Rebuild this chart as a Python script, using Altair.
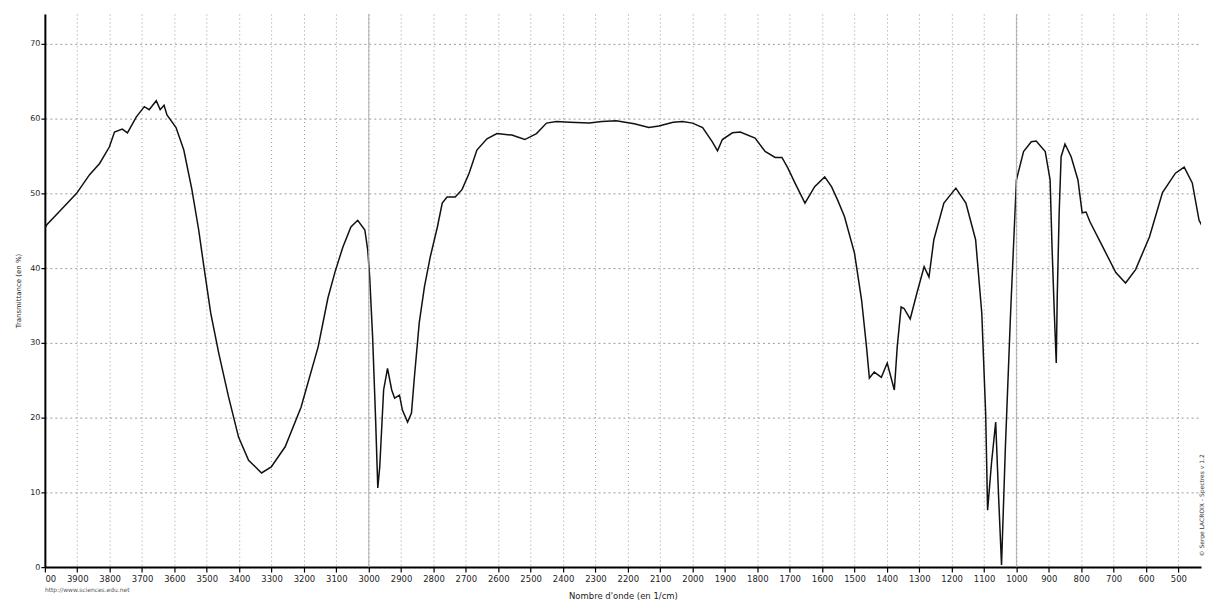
import altair as alt
import pandas as pd

# Spectrum trace (wavenumber in 1/cm, transmittance in %)
wavenumber = [4000, 3994, 3950, 3902, 3862, 3831, 3801, 3785, 3761, 3745, 3718, 3693, 3678,
              3656, 3644, 3632, 3623, 3595, 3571, 3546, 3525, 3509, 3488, 3463, 3433,
              3402, 3371, 3331, 3301, 3258, 3209, 3156, 3126, 3104, 3080, 3055, 3034,
              3012, 3003, 2997, 2988, 2979, 2972, 2966, 2954, 2942, 2929, 2920, 2905,
              2896, 2880, 2868, 2859, 2844, 2828, 2810, 2788, 2773, 2758, 2733, 2712,
              2690, 2666, 2635, 2604, 2558, 2518, 2482, 2451, 2420, 2380, 2319, 2280,
              2236, 2180, 2135, 2104, 2060, 2031, 2000, 1969, 1939, 1923, 1908, 1877,
              1853, 1807, 1776, 1745, 1724, 1706, 1684, 1653, 1623, 1592, 1571, 1552,
              1531, 1500, 1478, 1463, 1454, 1439, 1417, 1399, 1377, 1368, 1356, 1347,
              1328, 1307, 1285, 1270, 1255, 1224, 1187, 1156, 1126, 1107, 1095, 1089,
              1077, 1064, 1055, 1046, 1034, 1018, 1000, 978, 954, 939, 911, 896, 890,
              883, 877, 874, 868, 862, 850, 831, 810, 797, 785, 773, 733, 693, 663,
              632, 589, 549, 509, 482, 457, 436, 420, 415]
transmittance = [45.3, 45.8, 47.8, 50.0, 52.5, 54.0, 56.2, 58.2, 58.6, 58.1, 60.2, 61.6, 61.2,
                 62.4, 61.2, 61.8, 60.5, 58.8, 55.8, 50.5, 45.1, 40.2, 34.0, 28.6, 22.8,
                 17.4, 14.3, 12.6, 13.4, 16.1, 21.4, 29.5, 36.0, 39.5, 42.8, 45.5, 46.4,
                 45.1, 42.4, 38.8, 30.8, 20.1, 10.6, 13.4, 23.7, 26.6, 23.7, 22.6, 23.0,
                 21.0, 19.4, 20.6, 25.4, 32.7, 37.5, 41.5, 45.5, 48.7, 49.5, 49.5, 50.5,
                 52.7, 55.8, 57.3, 58.0, 57.8, 57.2, 58.0, 59.4, 59.6, 59.5, 59.4, 59.6,
                 59.7, 59.3, 58.8, 59.0, 59.5, 59.6, 59.4, 58.8, 56.9, 55.7, 57.2, 58.1,
                 58.2, 57.4, 55.6, 54.8, 54.8, 53.4, 51.4, 48.7, 50.9, 52.2, 50.9, 49.1,
                 46.9, 42.0, 35.7, 29.5, 25.3, 26.1, 25.4, 27.3, 23.7, 29.5, 34.8, 34.6,
                 33.2, 36.7, 40.2, 38.8, 43.8, 48.7, 50.7, 48.7, 43.8, 34.0, 20.6, 7.6,
                 13.9, 19.4, 9.4, 0.3, 16.1, 34.0, 51.8, 55.6, 56.9, 57.0, 55.6, 51.8, 42.8,
                 34.0, 27.3, 36.1, 47.4, 54.9, 56.6, 54.9, 51.8, 47.4, 47.5, 46.2, 42.8, 39.4, 38.0,
                 39.8, 44.2, 50.1, 52.7, 53.5, 51.4, 46.4, 45.1, 45.0]

x_ticks = list(range(4000, 499, -100))
y_ticks = [0, 10, 20, 30, 40, 50, 60, 70]
major_grid = [3000, 1000]

x_title = "Nombre d'onde (en 1/cm)"
y_title = "Transmittance (en %)"
url_text = "http://www.sciences.edu.net"
credit_text = "© Serge LACROIX - Spectres v 1.2"

df = pd.DataFrame({"wn": wavenumber, "T": transmittance})
grid_df = pd.DataFrame({"wn": major_grid})

W, H = 1160, 555
FONT = "DejaVu Sans"
X_DOMAIN = [4000, 430]

x_axis = alt.Axis(
    values=x_ticks,
    labelExpr="datum.value == 4000 ? '00' : datum.label",
    format="d",
    title=x_title,
    labelFlush=True,
    labelOverlap=False,
    grid=True,
    gridColor="#9a9a9a",
    gridDash=[1, 3],
    gridWidth=1,
    domainColor="#000000",
    domainWidth=2,
    tickColor="#000000",
    tickSize=5,
    tickWidth=1.2,
    labelFont=FONT,
    labelFontSize=8.5,
    labelColor="#222222",
    labelPadding=2,
    titleFont=FONT,
    titleFontSize=8.5,
    titleFontWeight="normal",
    titleColor="#222222",
    titlePadding=9,
)
x_enc = alt.X("wn:Q", scale=alt.Scale(domain=X_DOMAIN, nice=False, zero=False), axis=x_axis)

y_enc = alt.Y(
    "T:Q",
    scale=alt.Scale(domain=[0, 74], nice=False, zero=True),
    axis=alt.Axis(
        values=y_ticks,
        title=y_title,
        grid=True,
        gridColor="#9a9a9a",
        gridDash=[2, 3],
        gridWidth=1,
        domainColor="#000000",
        domainWidth=2,
        tickColor="#000000",
        tickSize=4,
        tickWidth=1.2,
        labelFont=FONT,
        labelFontSize=8,
        labelColor="#222222",
        labelPadding=1,
        titleFont=FONT,
        titleFontSize=7,
        titleFontWeight="normal",
        titleColor="#222222",
        titlePadding=8,
    ),
)

line = alt.Chart(df).mark_line(
    color="#111111", strokeWidth=1.5, interpolate="linear", clip=True
).encode(x=x_enc, y=y_enc, order="order:Q").transform_calculate(order="-datum.wn")

rules = alt.Chart(grid_df).mark_rule(color="#b0b0b0", strokeWidth=1).encode(x=x_enc)

url = alt.Chart(pd.DataFrame({"t": [url_text]})).mark_text(
    align="left", baseline="middle", fontSize=6, font=FONT, color="#555555"
).encode(text="t:N", x=alt.value(0), y=alt.value(H + 23))

credit = alt.Chart(pd.DataFrame({"t": [credit_text]})).mark_text(
    align="center", baseline="middle", angle=270, fontSize=6, font=FONT, color="#333333"
).encode(text="t:N", x=alt.value(W + 1), y=alt.value(H - 62))

chart = alt.layer(line, rules, url, credit).properties(
    width=W, height=H, padding={"left": 6, "top": 4, "right": 0, "bottom": 0},
    background="#ffffff",
).configure_view(stroke="transparent", strokeWidth=0)

chart.save("out.html", embed_options={"renderer": "svg", "actions": False})
